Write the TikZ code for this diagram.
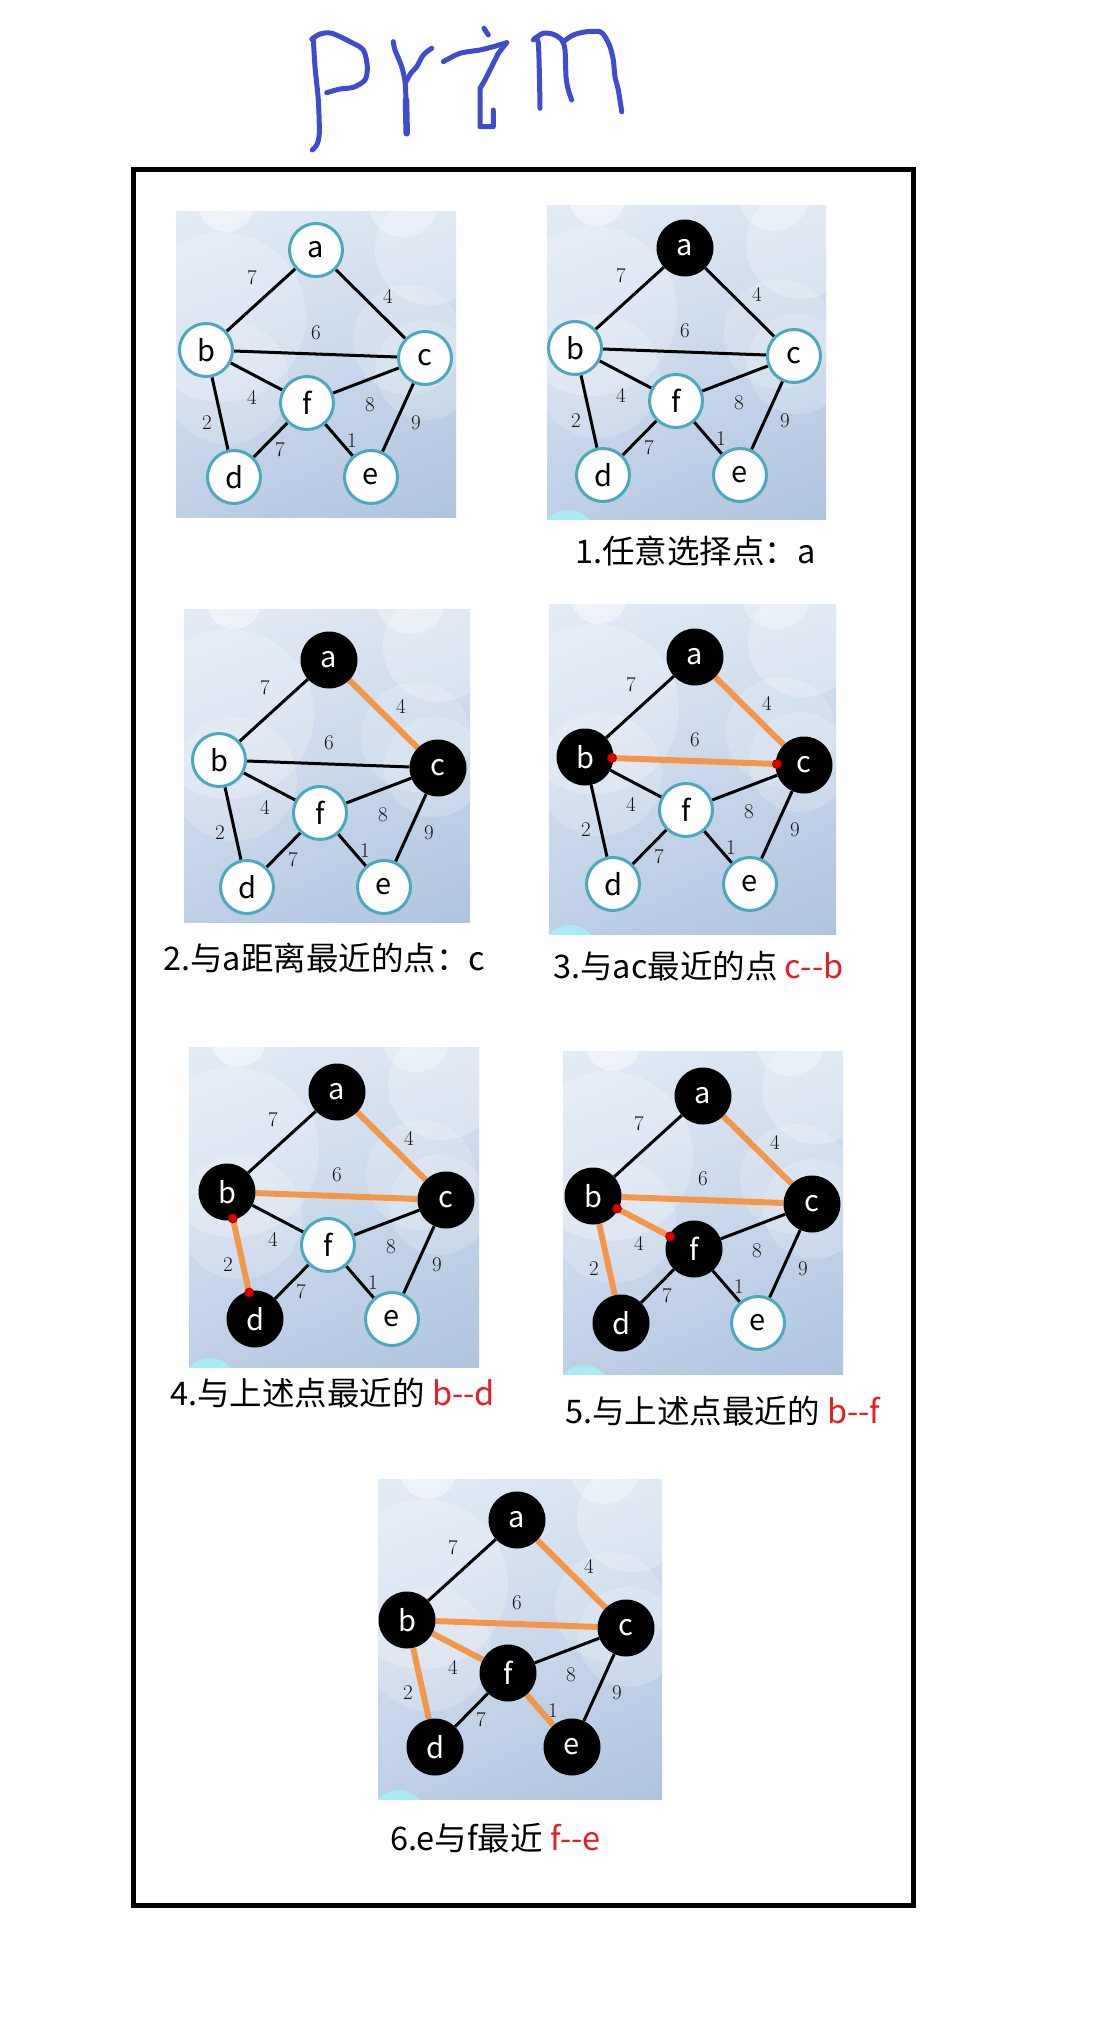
\documentclass[tikz,border=0pt]{standalone}
\usepackage{fontspec}
\newfontfamily\cjk{Noto Sans CJK SC}
\usetikzlibrary{calc,shadings}
\pgfdeclarelayer{bg}
\pgfsetlayers{bg,main}
\definecolor{nodeteal}{RGB}{75,168,190}
\definecolor{edgeorange}{RGB}{243,150,72}
\definecolor{labcol}{RGB}{25,20,15}
\definecolor{capred}{RGB}{236,28,36}
\definecolor{titleblue}{RGB}{64,76,208}
\definecolor{bgul}{RGB}{228,236,246}
\definecolor{bgur}{RGB}{216,227,241}
\definecolor{bgll}{RGB}{190,207,230}
\definecolor{bglr}{RGB}{174,196,224}
\definecolor{cyanblob}{RGB}{170,234,246}
\tikzset{
  wnode/.style={circle, fill=white, draw=nodeteal, line width=3pt, minimum size=53pt, inner sep=0pt, text=black, font=\cjk\fontsize{29}{29}\selectfont},
  bnode/.style={circle, fill=black, minimum size=57pt, inner sep=0pt, text=white, font=\cjk\fontsize{29}{29}\selectfont},
  gedge/.style={line width=3pt, black},
  oedge/.style={line width=6pt, edgeorange},
  wlab/.style={font=\fontsize{21}{21}\selectfont, text=labcol, inner sep=0pt},
  rdot/.style={circle, fill=red!90!black, draw=red!60!black, line width=0.8pt, minimum size=9pt, inner sep=0pt},
  caption/.style={anchor=base west, font=\cjk\fontsize{32.5}{32.5}\selectfont, inner sep=0pt, text=black},
  titlepen/.style={titleblue, line width=5pt, line cap=round, line join=round},
  na/.style={wnode}, nb/.style={wnode}, nc/.style={wnode},
  nd/.style={wnode}, ne/.style={wnode}, nf/.style={wnode},
  eab/.style={gedge}, eac/.style={gedge}, ebc/.style={gedge},
  ebf/.style={gedge}, ebd/.style={gedge}, efc/.style={gedge},
  ece/.style={gedge}, efd/.style={gedge}, efe/.style={gedge},
}
% #1 prefix, #2 #3 #4 #5 panel rectangle (relative to node a), #6 cyan blob flag
\newcommand{\gpanel}[6]{%
  \begin{pgfonlayer}{bg}
    \shade[upper left=bgul, upper right=bgur, lower left=bgll, lower right=bglr] (#2,#3) rectangle (#4,#5);
    \begin{scope}
      \clip (#2,#3) rectangle (#4,#5);
      \begin{scope}[shift={(#2,#3)}]
        \fill[white, opacity=.22] (45,105) circle[radius=85];
        \fill[white, opacity=.18] (51,170) circle[radius=62];
        \fill[white, opacity=.45] (50,-8) circle[radius=28];
        \fill[white, opacity=.25] (254,38) circle[radius=55];
        \fill[white, opacity=.3] (227,-10) circle[radius=35];
        \fill[white, opacity=.18] (232,128) circle[radius=55];
        \fill[white, opacity=.18] (250,158) circle[radius=50];
      \end{scope}
      \ifnum#6=1 \fill[cyanblob] ({#2+21},{#5+19}) circle[radius=28];\fi
    \end{scope}
  \end{pgfonlayer}
  \node[na] (#1a) at (0,0) {a};
  \node[nb] (#1b) at (-110,100) {b};
  \node[nc] (#1c) at (109,108) {c};
  \node[nd] (#1d) at (-82,227) {d};
  \node[ne] (#1e) at (55,227) {e};
  \node[nf] (#1f) at (-9,153) {f};
  \begin{pgfonlayer}{bg}
    \draw[eab] (#1a) -- (#1b);
    \draw[eac] (#1a) -- (#1c);
    \draw[ebc] (#1b) -- (#1c);
    \draw[ebf] (#1b) -- (#1f);
    \draw[ebd] (#1b) -- (#1d);
    \draw[efc] (#1f) -- (#1c);
    \draw[ece] (#1c) -- (#1e);
    \draw[efd] (#1f) -- (#1d);
    \draw[efe] (#1f) -- (#1e);
  \end{pgfonlayer}
  \node[wlab] (#1lab) at (-64,28) {7};
  \node[wlab] (#1lac) at (72,46) {4};
  \node[wlab] (#1lbc) at (0,83) {6};
  \node[wlab] (#1lbf) at (-64,147) {4};
  \node[wlab] (#1lbd) at (-109,173) {2};
  \node[wlab] (#1lfc) at (54,155) {8};
  \node[wlab] (#1lce) at (100,173) {9};
  \node[wlab] (#1lfd) at (-36,200) {7};
  \node[wlab] (#1lfe) at (36,191) {1};
}
\begin{document}
\begin{tikzpicture}[x=1pt,y=-1pt]
\begin{pgfonlayer}{bg}
\fill[white] (0,0) rectangle (1096,2036);
\end{pgfonlayer}
\useasboundingbox (0,0) rectangle (1096,2036);

% title
\draw[titlepen] plot[smooth] coordinates {(313.3,38.3) (315,66.7) (318.3,100) (319.3,133.3) (316.7,145) (312.3,150)};
\draw[titlepen] plot[smooth] coordinates {(311.7,39.3) (320,34) (331.7,33.3) (350,41.7) (363.3,50) (367.3,66.7) (365,80) (353.3,87.3) (340,89) (326.7,92.7)};
\draw[titlepen] plot[smooth] coordinates {(393.3,41.7) (395,50) (401.7,66.7) (405,81.7) (406,100)};
\draw[titlepen, line width=6.5pt] (406,100) -- (406.7,133.3);
\draw[titlepen] plot[smooth] coordinates {(406,81.7) (411,73) (416.7,66.7) (423.3,55) (431.7,48.3)};
\draw[titlepen] plot[smooth] coordinates {(443.3,61.7) (460,53.3) (480,50) (493.3,46.7) (506.7,42.7)};
\draw[titlepen] (506.7,42.7) -- (498.3,53.3) -- (491.7,66.7) -- (485,80) -- (480,88.3) -- (480,126.7) -- (493.3,126.7) -- (493.3,110);
\draw[titlepen] (484,28.3) -- (488.3,35);
\draw[titlepen] plot[smooth] coordinates {(533.3,40) (538.3,43.3) (540,108.3)};
\draw[titlepen] plot[smooth] coordinates {(535,38.3) (543.3,33.3) (553.3,34.3) (561.7,40) (565,50) (566,76.7) (568.3,90) (571.7,100)};
\draw[titlepen] plot[smooth] coordinates {(563.3,41.7) (573.3,35) (586.7,31.7) (600,31.7) (605,36.7) (610,46.7) (613.3,60) (615,76.7) (618.3,90) (621.7,111.7)};

% frame
\draw[line width=5pt] (133.5,169.5) rectangle (913.5,1905);

% panel 0
\begin{scope}[shift={(316,250)}]
  \gpanel{p0}{-140}{-38}{140}{267}{0}
\end{scope}

% panel 1
\begin{scope}[shift={(685,248)}, na/.style={bnode}]
  \gpanel{p1}{-138}{-42}{141}{271}{1}
\end{scope}
\node[caption] (cap1) at (575,563) {1.任意选择点：a};

% panel 2
\begin{scope}[shift={(329,660)}, na/.style={bnode}, nc/.style={bnode}, eac/.style={oedge}]
  \gpanel{p2}{-145}{-51}{141}{262}{0}
\end{scope}
\node[caption] (cap2) at (163,970) {2.与a距离最近的点：c};

% panel 3
\begin{scope}[shift={(695,657)}, na/.style={bnode}, nb/.style={bnode}, nc/.style={bnode},
  eac/.style={oedge}, ebc/.style={oedge}]
  \gpanel{p3}{-146}{-53}{141}{277}{1}
\end{scope}
\node[rdot] (p3r1) at ($(p3b)!27pt!(p3c)$) {};
\node[rdot] (p3r2) at ($(p3c)!27pt!(p3b)$) {};
\node[caption] (cap3) at (553,978) {3.与ac最近的点 {\color{capred}c--b}};

% panel 4
\begin{scope}[shift={(337,1092)}, na/.style={bnode}, nb/.style={bnode}, nc/.style={bnode}, nd/.style={bnode},
  eac/.style={oedge}, ebc/.style={oedge}, ebd/.style={oedge}]
  \gpanel{p4}{-148}{-45}{142}{275}{1}
\end{scope}
\node[rdot] (p4r1) at ($(p4b)!27pt!(p4d)$) {};
\node[rdot] (p4r2) at ($(p4d)!27pt!(p4b)$) {};
\node[caption] (cap4) at (170,1405) {4.与上述点最近的 {\color{capred}b--d}};

% panel 5
\begin{scope}[shift={(703,1096)}, na/.style={bnode}, nb/.style={bnode}, nc/.style={bnode}, nd/.style={bnode}, nf/.style={bnode},
  eac/.style={oedge}, ebc/.style={oedge}, ebd/.style={oedge}, ebf/.style={oedge}]
  \gpanel{p5}{-140}{-45}{140}{278}{1}
\end{scope}
\node[rdot] (p5r1) at ($(p5b)!27pt!(p5f)$) {};
\node[rdot] (p5r2) at ($(p5f)!27pt!(p5b)$) {};
\node[caption] (cap5) at (565,1423) {5.与上述点最近的 {\color{capred}b--f}};

% panel 6
\begin{scope}[shift={(517,1520)}, na/.style={bnode}, nb/.style={bnode}, nc/.style={bnode}, nd/.style={bnode}, ne/.style={bnode}, nf/.style={bnode},
  eac/.style={oedge}, ebc/.style={oedge}, ebd/.style={oedge}, ebf/.style={oedge}, efe/.style={oedge}]
  \gpanel{p6}{-139}{-41}{145}{279}{1}
\end{scope}
\node[caption] (cap6) at (390,1850) {6.e与f最近 {\color{capred}f--e}};
\end{tikzpicture}
\end{document}
